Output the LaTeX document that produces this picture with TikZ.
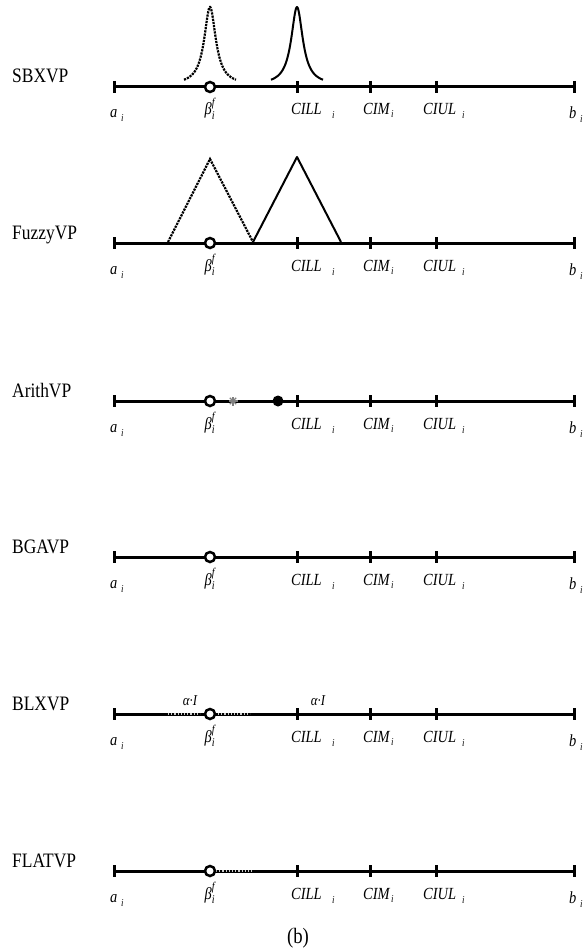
\documentclass[tikz,border=0pt]{standalone}
\usepackage{fontspec}
\usepackage{amsmath}
\setmainfont{Liberation Serif}
\newfontfamily\narrowserif[FakeStretch=0.85]{Liberation Serif}
\tikzset{
  axisline/.style={line width=3pt},
  tickmark/.style={line width=3pt},
  solidcurve/.style={line width=2pt, line join=round},
  dotcurve/.style={line width=2.2pt, densely dotted},
  faintdots/.style={line width=1.2pt, gray!40, dotted},
  rowname/.style={font=\narrowserif\fontsize{20.5}{20.5}\selectfont, anchor=base west, inner sep=0pt},
  lbl/.style={font=\narrowserif\fontsize{17}{17}\selectfont\itshape, anchor=base west, inner sep=0pt},
  subl/.style={font=\narrowserif\fontsize{10.5}{10.5}\selectfont\itshape, anchor=base west, inner sep=0pt},
  betalbl/.style={font=\narrowserif\fontsize{17}{17}\selectfont, anchor=base, inner sep=0pt},
  ring/.style={circle, draw, line width=2.5pt, fill=white, minimum size=10pt, inner sep=0pt},
  bigdot/.style={circle, fill=black, minimum size=11pt, inner sep=0pt},
}
\newcommand\vprow[3]{%
  \node[rowname] (name#3) at (12,#1-4) {#2};
  \coordinate (start#3) at (114,#1);
  \coordinate (end#3) at (574,#1);
  \draw[axisline] (start#3) -- (end#3);
  \draw[tickmark] (114,#1-6) -- (114,#1+6);
  \draw[tickmark] (574,#1-6) -- (574,#1+6);
  \draw[tickmark] (297,#1-6) -- (297,#1+6);
  \draw[tickmark] (370,#1-6) -- (370,#1+6);
  \draw[tickmark] (436,#1-6) -- (436,#1+6);
  \node[lbl] (a#3) at (110,#1+31) {a};
  \node[subl] (ai#3) at (121,#1+35) {i};
  \node[betalbl] (beta#3) at (210,#1+28) {\textit{β}$^{\text{\itshape f}}_{\text{\itshape i}}$};
  \node[lbl] (cill#3) at (291,#1+28) {CILL};
  \node[subl] (cilli#3) at (332,#1+32) {i};
  \node[lbl] (cim#3) at (363,#1+28) {CIM};
  \node[subl] (cimi#3) at (391,#1+31) {i};
  \node[lbl] (ciul#3) at (423,#1+28) {CIUL};
  \node[subl] (ciuli#3) at (462,#1+32) {i};
  \node[lbl] (b#3) at (569,#1+32) {b};
  \node[subl] (bi#3) at (580,#1+36) {i};
}
\begin{document}
\begin{tikzpicture}[x=1pt,y=-1pt]
\useasboundingbox (0,0) rectangle (588,952);

% SBXVP
\draw[dotcurve] plot[domain=-26:26, samples=101, smooth] ({210+\x},{85-78/(1+(\x/7)^2)});
\draw[solidcurve] plot[domain=-26:26, samples=101, smooth] ({297+\x},{85-78/(1+(\x/7)^2)});
\vprow{87}{SBXVP}{1}
\node[ring] (ring1) at (210,87) {};

% FuzzyVP
\coordinate (fd1) at (168,242);
\coordinate (fd2) at (210,159);
\coordinate (fs1) at (253,242);
\coordinate (fs2) at (297,157);
\coordinate (fs3) at (341,242);
\draw[dotcurve] (fd1) -- (fd2) -- (fs1);
\draw[solidcurve] (fs1) -- (fs2) -- (fs3);
\vprow{243}{FuzzyVP}{2}
\node[ring] (ring2) at (210,243) {};

% ArithVP
\vprow{401}{ArithVP}{3}
\node[ring] (ring3) at (210,401) {};
\node[bigdot] (dot3) at (278,401) {};
\foreach \ang in {0,45,90,135}
  \draw[gray, line width=1.3pt] (233,401) ++(\ang:4.5) -- ++(\ang+180:9);

% BGAVP
\vprow{557}{BGAVP}{4}
\node[ring] (ring4) at (210,557) {};

% BLXVP
\vprow{714}{BLXVP}{5}
\coordinate (bl1) at (168,714);
\coordinate (bl2) at (200,714);
\coordinate (bl3) at (218,714);
\coordinate (bl4) at (250,714);
\draw[faintdots] (bl1) -- (bl2);
\draw[faintdots] (bl3) -- (bl4);
\node[ring] (ring5) at (210,714) {};
\node[font=\narrowserif\fontsize{15}{15}\selectfont\itshape, anchor=base, inner sep=0pt] (al1) at (190,705) {α·I};
\node[font=\narrowserif\fontsize{15}{15}\selectfont\itshape, anchor=base, inner sep=0pt] (al2) at (318,705) {α·I};

% FLATVP
\vprow{871}{FLATVP}{6}
\coordinate (fl1) at (216,871);
\coordinate (fl2) at (254,871);
\draw[faintdots] (fl1) -- (fl2);
\node[ring] (ring6) at (210,871) {};

\node[font=\narrowserif\fontsize{22}{22}\selectfont, anchor=base, inner sep=0pt] (cap) at (298,943) {(b)};
\end{tikzpicture}
\end{document}
